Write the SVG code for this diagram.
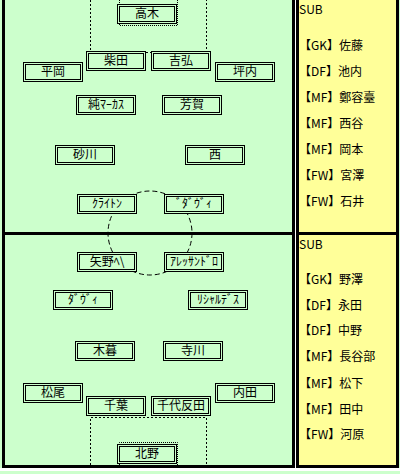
<svg xmlns="http://www.w3.org/2000/svg" width="400" height="474" viewBox="0 0 400 474">
<style>
text{font-family:"Noto Sans CJK JP","Noto Sans",sans-serif;font-size:12px;fill:#000}
.pl text{text-anchor:middle}
.bo{fill:#ccffcc;stroke:#000;stroke-width:1}
.bi{fill:none;stroke:#000;stroke-width:1}
.dot{fill:none;stroke:#000;stroke-width:1;stroke-dasharray:2,2}
.dot2{fill:none;stroke:#000;stroke-width:1;stroke-dasharray:1,1}
.circ{fill:none;stroke:#000;stroke-width:1;stroke-dasharray:5,3}
</style>
<defs>
<g id="box"><rect class="bo" x="0.5" y="0.5" width="59" height="19"/><rect class="bi" x="2.5" y="2.5" width="55" height="15"/></g>
</defs>
<rect x="0" y="0" width="400" height="474" fill="#ccffcc"/>
<rect x="0" y="468" width="400" height="3" fill="#fff"/>
<rect x="294" y="0" width="2" height="468" fill="#fff"/>
<g id="field">
<rect x="3.5" y="-5" width="290" height="238.5" fill="#ccffcc" stroke="#000" stroke-width="3"/>
<rect x="3.5" y="233.5" width="290" height="233" fill="#ccffcc" stroke="#000" stroke-width="3"/>
<rect x="297.5" y="-5" width="100" height="238.5" fill="#ffff99" stroke="#000" stroke-width="3"/>
<rect x="297.5" y="233.5" width="100" height="233" fill="#ffff99" stroke="#000" stroke-width="3"/>
</g>
<g id="connectors">
<path class="dot" d="M90.5,0V52.5H206.5V0"/>
<path class="dot2" d="M119.5,0V25.5H177.5V0"/>
<path class="dot" d="M90.5,465V417.5H206.5V465"/>
<path class="dot2" d="M119.5,465V442.5H177.5V465"/>
<circle class="circ" cx="150" cy="233" r="42"/>
</g>
<g class="pl">
<g id="p-takagi" transform="translate(117,4)"><use href="#box"/><text x="30" y="14">高木</text></g>
<g id="p-shibata" transform="translate(86,51)"><use href="#box"/><text x="30" y="14">柴田</text></g>
<g id="p-yoshihiro" transform="translate(151,51)"><use href="#box"/><text x="30" y="14">吉弘</text></g>
<g id="p-hiraoka" transform="translate(23,62)"><use href="#box"/><text x="30" y="14">平岡</text></g>
<g id="p-tsubouchi" transform="translate(215,62)"><use href="#box"/><text x="30" y="14">坪内</text></g>
<g id="p-marcus" transform="translate(76,95)"><use href="#box"/><text x="30" y="14">純ﾏｰｶｽ</text></g>
<g id="p-haga" transform="translate(162,95)"><use href="#box"/><text x="30" y="14">芳賀</text></g>
<g id="p-sunakawa" transform="translate(55,145)"><use href="#box"/><text x="30" y="14">砂川</text></g>
<g id="p-nishi" transform="translate(185,145)"><use href="#box"/><text x="30" y="14">西</text></g>
<g id="p-clayton" transform="translate(77,194)"><use href="#box"/><text x="30" y="14">ｸﾗｲﾄﾝ</text></g>
<g id="p-davi1" transform="translate(164,194)"><use href="#box"/><text x="30" y="14">ﾞﾀﾞｳﾞｨ</text></g>
<g id="p-yano" transform="translate(77,252)"><use href="#box"/><text x="30" y="14">矢野ﾍ\</text></g>
<g id="p-alessandro" transform="translate(164,252)"><use href="#box"/><text x="30" y="14">ｱﾚｯｻﾝﾄﾞﾛ</text></g>
<g id="p-davi2" transform="translate(53,290)"><use href="#box"/><text x="30" y="14">ﾀﾞｳﾞｨ</text></g>
<g id="p-ricardesu" transform="translate(188,290)"><use href="#box"/><text x="30" y="14">ﾘｼｬﾙﾃﾞｽ</text></g>
<g id="p-kogure" transform="translate(75,341)"><use href="#box"/><text x="30" y="14">木暮</text></g>
<g id="p-terakawa" transform="translate(163,341)"><use href="#box"/><text x="30" y="14">寺川</text></g>
<g id="p-matsuo" transform="translate(23,383)"><use href="#box"/><text x="30" y="14">松尾</text></g>
<g id="p-chiba" transform="translate(86,396)"><use href="#box"/><text x="30" y="14">千葉</text></g>
<g id="p-chiyotanda" transform="translate(151,396)"><use href="#box"/><text x="30" y="14">千代反田</text></g>
<g id="p-uchida" transform="translate(215,383)"><use href="#box"/><text x="30" y="14">内田</text></g>
<g id="p-kitano" transform="translate(117,444)"><use href="#box"/><text x="30" y="14">北野</text></g>
</g>
<g id="sub1">
<text x="299" y="14">SUB</text>
<text x="299" y="50">【GK】佐藤</text>
<text x="299" y="76">【DF】池内</text>
<text x="299" y="102">【MF】鄭容臺</text>
<text x="299" y="128">【MF】西谷</text>
<text x="299" y="154">【MF】岡本</text>
<text x="299" y="180">【FW】宮澤</text>
<text x="299" y="206">【FW】石井</text>
</g>
<g id="sub2">
<text x="299" y="249">SUB</text>
<text x="299" y="284">【GK】野澤</text>
<text x="299" y="310">【DF】永田</text>
<text x="299" y="335">【DF】中野</text>
<text x="299" y="361">【MF】長谷部</text>
<text x="299" y="388">【MF】松下</text>
<text x="299" y="414">【MF】田中</text>
<text x="299" y="439">【FW】河原</text>
</g>
</svg>
